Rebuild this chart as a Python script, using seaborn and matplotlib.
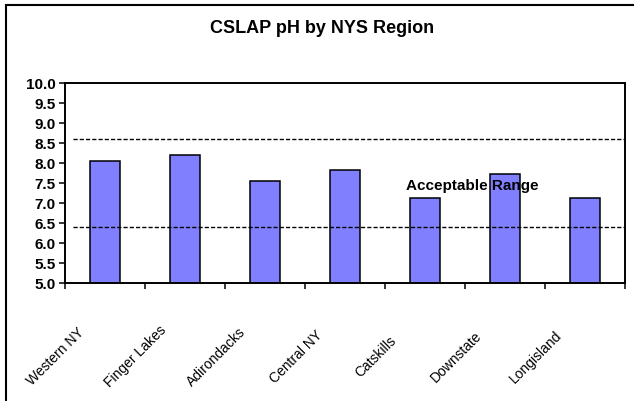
import matplotlib
matplotlib.use("Agg")
import matplotlib.pyplot as plt
import matplotlib.transforms as mtransforms
from matplotlib.patches import Rectangle
import seaborn as sns
import pandas as pd
import numpy as np

regions = ["Western NY", "Finger Lakes", "Adirondacks", "Central NY",
           "Catskills", "Downstate", "Longisland"]
ph_values = [8.03, 8.20, 7.55, 7.83, 7.13, 7.73, 7.13]
range_low = 6.4
range_high = 8.58
y_ticks = [5.0, 5.5, 6.0, 6.5, 7.0, 7.5, 8.0, 8.5, 9.0, 9.5, 10.0]
title = "CSLAP pH by NYS Region"
range_label = "Acceptable Range"

df = pd.DataFrame({"region": regions, "ph": ph_values})

sns.set_theme(style="white")
plt.rcParams["font.family"] = ["Liberation Sans", "DejaVu Sans"]
plt.rcParams["text.color"] = "black"
plt.rcParams["xtick.color"] = "black"
plt.rcParams["ytick.color"] = "black"

fig = plt.figure(figsize=(6.34, 4.02), dpi=100)
ax = fig.add_axes([65/634, 1-284/402, 560/634, (284-83.5)/402])

sns.barplot(data=df, x="region", y="ph", order=regions, color="#8080FF",
            saturation=1, width=0.375, edgecolor="black", linewidth=1.1,
            ax=ax, zorder=2)

ax.set_ylim(5.0, 10.0)
ax.set_xlim(-0.5, len(regions) - 0.5)
ax.set_yticks(y_ticks)
ax.set_yticklabels([f"{v:.1f}" for v in y_ticks], fontsize=11,
                   fontweight="bold", color="black")
ax.tick_params(axis="y", direction="out", length=4, width=1.1, pad=3,
               left=True, colors="black")

# category boundaries as major ticks, labels as minor ticks at centers
ax.set_xticks(np.arange(-0.5, len(regions), 1.0))
ax.set_xticklabels([])
ax.tick_params(axis="x", which="major", direction="out", length=4, width=1.1,
               bottom=True, colors="black")
ax.set_xticks(np.arange(len(regions)), minor=True)
ax.set_xticklabels(regions, minor=True, rotation=45, ha="center", va="center",
                   rotation_mode="anchor", fontsize=10, color="black")
ax.tick_params(axis="x", which="minor", length=0, pad=0)
offset = mtransforms.ScaledTranslation(-0.49, -0.73, fig.dpi_scale_trans)
for lbl in ax.get_xticklabels(minor=True):
    lbl.set_transform(lbl.get_transform() + offset)

ax.set_xlabel("")
ax.set_ylabel("")

for sp in ax.spines.values():
    sp.set_visible(True)
    sp.set_color("black")
    sp.set_linewidth(1.4)

for yv in (range_low, range_high):
    ax.axhline(yv, xmin=0.014, xmax=1.0, color="black", linewidth=1.0,
               dashes=(3, 1.5), zorder=3)

ax.text(3.76, 7.34, range_label, fontsize=11, fontweight="bold",
        color="black", ha="left", va="baseline", zorder=4)

fig.text(322/634, 1-33/402, title, fontsize=13, fontweight="bold",
         color="black", ha="center", va="baseline")

# outer chart border (extends past the right and bottom edges)
fig.patches.append(Rectangle((5.5/634, -0.2), 1.2, 1.2 - 5.5/402,
                             transform=fig.transFigure, fill=False,
                             edgecolor="black", linewidth=1.5))

fig.savefig("out.png", dpi=100)
